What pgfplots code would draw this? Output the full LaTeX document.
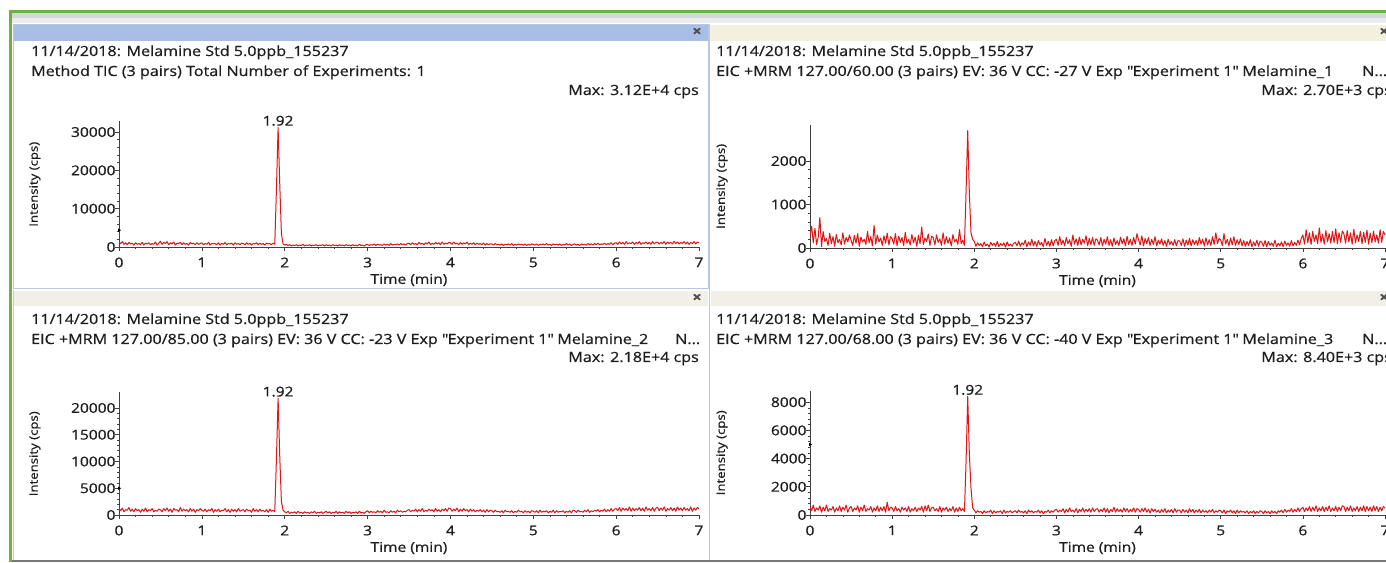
\documentclass[border=0pt]{standalone}
\usepackage{fontspec}
\setmainfont{Open Sans}[FakeStretch=1.15,FakeBold=0.7]
\usepackage{pgfplots}
\usepackage{pgfplotstable}
\pgfplotsset{compat=1.18}

\definecolor{trace}{RGB}{222,22,22}
\definecolor{winGreen}{RGB}{112,176,64}
\definecolor{chromeA}{RGB}{212,214,218}
\definecolor{chromeB}{RGB}{234,236,238}
\definecolor{barBlue}{RGB}{168,190,228}
\definecolor{barBeige}{RGB}{244,240,222}
\definecolor{barBeigeB}{RGB}{242,240,230}
\definecolor{panelLine}{RGB}{184,200,226}
\definecolor{sepLine}{RGB}{200,200,200}
\definecolor{bottomGray}{RGB}{120,120,120}
\definecolor{txt}{RGB}{30,30,30}

% Intensity values sampled every 0.02 min from 0 to 7 min (351 points each)
\pgfplotstableread[header=false,row sep=\\]{
1300\\900\\1400\\700\\1100\\600\\1200\\800\\1000\\500\\1100\\700\\900\\600\\1200\\500\\1000\\800\\1100\\600\\900\\700\\1300\\500\\1000\\
1500\\700\\1200\\900\\1400\\600\\1100\\800\\1300\\500\\1000\\900\\1200\\600\\1100\\700\\900\\500\\1200\\800\\1000\\600\\1100\\700\\900\\
1100\\600\\900\\700\\1200\\500\\1000\\800\\900\\600\\1100\\500\\1000\\700\\1200\\600\\900\\800\\1000\\500\\1100\\700\\900\\600\\1000\\
900\\600\\1100\\700\\1000\\500\\900\\800\\1100\\600\\1000\\700\\900\\500\\1000\\800\\900\\600\\1000\\700\\15000\\31200\\16500\\3500\\800\\
500\\700\\400\\600\\300\\500\\400\\600\\300\\500\\400\\700\\300\\500\\400\\600\\300\\500\\400\\600\\300\\500\\400\\600\\300\\
600\\400\\500\\300\\600\\400\\500\\300\\600\\400\\500\\300\\600\\400\\500\\300\\600\\400\\500\\300\\700\\400\\500\\300\\600\\
700\\400\\600\\500\\800\\400\\700\\500\\600\\400\\800\\500\\700\\400\\900\\500\\700\\600\\800\\500\\900\\600\\800\\500\\900\\
1000\\600\\1100\\700\\900\\600\\1200\\700\\1000\\600\\1100\\800\\1300\\600\\1000\\700\\1200\\800\\1100\\600\\1300\\700\\1000\\800\\1200\\
1100\\700\\1300\\800\\1000\\600\\1200\\700\\1100\\800\\1300\\600\\1000\\700\\1100\\600\\1000\\700\\900\\600\\1000\\500\\900\\600\\800\\
800\\500\\900\\600\\700\\500\\800\\400\\700\\600\\800\\500\\900\\400\\700\\500\\800\\600\\700\\500\\800\\400\\700\\500\\800\\
700\\500\\800\\400\\700\\600\\800\\500\\900\\500\\700\\400\\800\\600\\700\\500\\800\\400\\700\\500\\900\\500\\800\\400\\700\\
800\\500\\700\\400\\800\\600\\700\\500\\900\\600\\800\\500\\900\\600\\1000\\600\\800\\700\\1000\\600\\900\\700\\1100\\600\\1000\\
1100\\700\\1300\\800\\1200\\700\\1400\\800\\1100\\900\\1300\\700\\1200\\800\\1400\\700\\1100\\900\\1300\\800\\1200\\700\\1400\\800\\1200\\
1300\\800\\1200\\900\\1400\\700\\1300\\900\\1200\\800\\1500\\900\\1300\\800\\1200\\900\\1400\\800\\1300\\700\\1200\\900\\1400\\800\\1300\\
1100\\
}\tictab

\pgfplotstableread[header=false,row sep=\\]{
300\\500\\120\\450\\80\\250\\700\\30\\380\\150\\220\\60\\340\\100\\260\\40\\310\\120\\200\\70\\350\\90\\240\\140\\300\\
180\\60\\290\\110\\330\\40\\250\\140\\200\\80\\380\\120\\260\\50\\520\\90\\300\\140\\230\\60\\280\\110\\340\\70\\260\\
210\\90\\330\\50\\270\\130\\240\\60\\360\\110\\200\\70\\310\\120\\250\\40\\290\\100\\480\\80\\230\\150\\320\\60\\270\\
240\\70\\300\\130\\210\\60\\350\\90\\260\\110\\230\\50\\310\\140\\200\\80\\420\\100\\180\\60\\1300\\2700\\1250\\350\\200\\
150\\40\\120\\60\\100\\30\\140\\50\\90\\20\\130\\60\\110\\40\\150\\30\\100\\60\\120\\20\\140\\50\\90\\40\\110\\
130\\50\\160\\40\\120\\70\\180\\30\\140\\60\\200\\50\\150\\40\\170\\70\\130\\30\\220\\60\\150\\40\\190\\50\\170\\
200\\60\\260\\80\\180\\50\\240\\100\\190\\40\\300\\90\\210\\60\\250\\70\\200\\110\\280\\50\\220\\80\\240\\60\\210\\
180\\70\\240\\50\\200\\90\\260\\60\\190\\40\\230\\80\\170\\60\\250\\100\\210\\50\\270\\80\\200\\60\\240\\90\\330\\
190\\70\\280\\50\\220\\100\\240\\60\\200\\80\\260\\50\\180\\90\\210\\60\\170\\40\\200\\80\\150\\60\\190\\50\\170\\
160\\60\\210\\40\\180\\70\\220\\50\\190\\80\\170\\60\\240\\90\\200\\50\\230\\70\\190\\60\\260\\80\\350\\100\\220\\
180\\60\\330\\90\\200\\50\\230\\70\\260\\60\\190\\80\\210\\50\\170\\40\\150\\60\\190\\30\\140\\50\\180\\40\\160\\
130\\40\\170\\30\\150\\60\\120\\40\\180\\30\\110\\50\\140\\30\\160\\60\\120\\40\\170\\50\\130\\60\\180\\70\\220\\
300\\90\\420\\120\\350\\80\\380\\150\\300\\100\\460\\130\\320\\90\\400\\140\\330\\110\\380\\120\\440\\100\\350\\130\\390\\
320\\110\\400\\140\\350\\90\\430\\120\\300\\150\\380\\100\\360\\130\\410\\90\\340\\120\\390\\140\\300\\110\\420\\130\\380\\
300\\
}\mrmatab

\pgfplotstableread[header=false,row sep=\\]{
1200\\800\\1300\\600\\1000\\900\\1400\\700\\1100\\600\\1200\\800\\1000\\500\\1100\\700\\1300\\600\\1000\\800\\1200\\600\\900\\700\\1100\\
1000\\600\\1200\\800\\1300\\700\\1100\\500\\1200\\900\\1000\\600\\1400\\700\\1100\\800\\1000\\600\\1200\\700\\1100\\500\\1000\\800\\1200\\
900\\700\\1100\\600\\1000\\800\\1200\\500\\1000\\700\\1100\\600\\900\\800\\1200\\600\\1000\\500\\1100\\700\\1000\\600\\1200\\700\\900\\
1000\\600\\1100\\800\\900\\500\\1200\\700\\1000\\600\\1100\\700\\900\\600\\1000\\500\\1100\\700\\900\\600\\10500\\21800\\11000\\2500\\900\\
600\\400\\700\\300\\500\\400\\600\\300\\700\\400\\500\\300\\600\\400\\500\\300\\600\\400\\700\\300\\500\\400\\600\\300\\500\\
700\\400\\600\\300\\500\\400\\700\\300\\600\\400\\500\\300\\700\\400\\600\\300\\500\\400\\600\\300\\700\\400\\500\\300\\600\\
800\\400\\700\\500\\600\\400\\800\\500\\700\\400\\900\\500\\600\\400\\800\\500\\700\\400\\900\\600\\800\\500\\700\\600\\900\\
1000\\600\\900\\700\\1100\\600\\1000\\700\\1200\\600\\900\\700\\1100\\800\\1000\\600\\1200\\700\\1000\\600\\1100\\800\\1200\\700\\1300\\
1200\\700\\1100\\800\\1300\\600\\1100\\700\\1200\\800\\1000\\600\\1100\\700\\1000\\600\\900\\700\\1000\\600\\900\\500\\1000\\600\\900\\
800\\500\\900\\600\\700\\500\\800\\400\\900\\600\\700\\500\\800\\400\\700\\500\\900\\600\\700\\400\\800\\500\\700\\400\\800\\
700\\500\\800\\400\\900\\500\\700\\600\\800\\400\\700\\500\\900\\400\\800\\500\\700\\600\\800\\400\\700\\500\\800\\400\\900\\
800\\500\\900\\600\\700\\500\\900\\600\\1000\\500\\800\\600\\900\\700\\1000\\600\\900\\700\\1100\\600\\1000\\700\\1200\\700\\1100\\
1200\\800\\1400\\700\\1300\\900\\1200\\800\\1500\\700\\1300\\800\\1200\\900\\1400\\800\\1300\\700\\1500\\900\\1200\\800\\1400\\700\\1300\\
1400\\800\\1300\\900\\1500\\700\\1200\\900\\1400\\800\\1300\\700\\1500\\900\\1300\\800\\1400\\900\\1200\\800\\1500\\700\\1300\\900\\1400\\
1200\\
}\mrmbtab

\pgfplotstableread[header=false,row sep=\\]{
600\\300\\700\\250\\500\\350\\650\\200\\550\\300\\700\\250\\450\\350\\600\\200\\500\\300\\650\\250\\550\\350\\700\\200\\500\\
600\\250\\500\\350\\650\\200\\550\\300\\700\\250\\450\\350\\600\\200\\500\\300\\650\\250\\550\\300\\600\\200\\900\\300\\550\\
500\\250\\600\\300\\450\\200\\550\\350\\500\\250\\600\\200\\450\\300\\550\\250\\500\\350\\600\\200\\650\\300\\700\\250\\500\\
550\\300\\450\\250\\600\\200\\500\\350\\550\\250\\450\\300\\600\\200\\500\\250\\550\\300\\450\\250\\3800\\8400\\4300\\1900\\500\\
350\\150\\300\\200\\250\\100\\300\\150\\250\\200\\350\\100\\300\\150\\250\\200\\300\\100\\350\\150\\250\\200\\300\\150\\250\\
300\\150\\350\\200\\250\\150\\300\\100\\350\\200\\300\\150\\250\\200\\350\\150\\300\\100\\250\\200\\350\\150\\300\\200\\350\\
400\\200\\350\\250\\450\\150\\400\\200\\500\\250\\350\\200\\450\\150\\400\\250\\500\\200\\400\\250\\450\\200\\500\\250\\400\\
450\\200\\400\\250\\500\\200\\450\\150\\400\\250\\550\\200\\450\\250\\400\\200\\500\\250\\450\\200\\400\\250\\500\\200\\450\\
400\\200\\450\\250\\500\\200\\400\\150\\450\\250\\400\\200\\350\\150\\400\\200\\450\\150\\350\\200\\400\\150\\450\\200\\350\\
350\\150\\400\\200\\350\\150\\450\\200\\400\\150\\350\\200\\400\\150\\350\\200\\300\\150\\350\\200\\400\\150\\300\\200\\350\\
300\\150\\350\\100\\300\\200\\350\\150\\300\\100\\350\\150\\300\\200\\250\\150\\300\\100\\250\\150\\300\\100\\250\\150\\300\\
250\\100\\300\\150\\250\\100\\300\\150\\250\\100\\300\\200\\350\\150\\400\\200\\350\\250\\450\\200\\400\\250\\500\\250\\450\\
550\\250\\500\\300\\600\\250\\550\\300\\650\\250\\500\\300\\600\\250\\550\\300\\650\\250\\500\\300\\600\\250\\550\\300\\650\\
600\\250\\550\\300\\650\\250\\500\\300\\600\\250\\550\\300\\650\\250\\600\\300\\550\\250\\650\\300\\600\\250\\550\\300\\600\\
500\\
}\mrmctab

\pgfplotsset{
  chrom/.style={
    scale only axis, anchor=south west,
    xmin=0, xmax=7, ymin=0,
    axis lines*=left,
    axis line style={black!75, line width=0.9pt},
    xtick={0,...,7},
    minor x tick num=4,
    minor y tick num=4,
    tick align=outside, tick pos=left,
    major tick length=4pt, minor tick length=2pt,
    every tick/.style={black!75, line width=0.6pt},
    scaled y ticks=false,
    /pgf/number format/1000 sep={},
    /pgf/number format/assume math mode=true,
    tick label style={font=\fontsize{13.5}{15}\selectfont, text=txt},
    yticklabel style={xshift=4pt},
    xticklabel style={yshift=-3pt},
    xlabel={Time (min)}, ylabel={Intensity (cps)},
    xlabel style={at={(axis description cs:0.5,0)}, anchor=center, yshift=-33pt,
                  font=\fontsize{13.5}{15}\selectfont, text=txt},
    ylabel style={anchor=center, font=\fontsize{11.5}{13}\selectfont, text=txt},
    clip mode=individual,
  },
  trc/.style={trace, line width=1pt, line join=round, mark=none},
  arr/.style={only marks, mark=triangle*, mark size=1.6pt, mark options={rotate=-90, fill=black}, black},
}

\tikzset{
  ttl/.style={font=\fontsize{14}{16}\selectfont, text=txt, inner sep=0pt},
  pk/.style={font=\fontsize{13.5}{15}\selectfont, text=txt, inner sep=1.5pt, anchor=south},
  cls/.style={font=\fontsize{14}{16}\selectfont\bfseries, text=black!70, inner sep=0pt},
}

\begin{document}
\begin{tikzpicture}
\useasboundingbox (0pt,0pt) rectangle (1386pt,562pt);
\begin{scope}[x=1pt,y=1pt]
\fill[white] (0,0) rectangle (1386,562);
% window chrome
\fill[winGreen] (8.5,548.7) rectangle (1386,552);
\fill[winGreen] (8.5,0) rectangle (11.7,552);
\fill[chromeA] (11.7,544) rectangle (1386,548.7);
\fill[chromeB] (11.7,539) rectangle (1386,544);
\fill[barBlue] (14,521) rectangle (708,537);
\fill[barBeige] (710,521) rectangle (1386,537);
\fill[barBeigeB] (14,256) rectangle (708,271);
\fill[barBeigeB] (711,256) rectangle (1386,271);
\draw[panelLine, line width=1pt] (13.5,273) rectangle (708.5,537.5);
\draw[sepLine, line width=1pt] (709.5,0) -- (709.5,538);
\draw[sepLine, line width=1pt] (13.5,2) -- (13.5,272);
\fill[bottomGray] (11.7,0) rectangle (1386,2.5);

\node[cls] at (697,530) {×};
\node[cls] at (1384,530) {×};
\node[cls] at (697,264) {×};
\node[cls] at (1384,264) {×};

\node[ttl, anchor=base west] at (31,506) {11/14/2018: Melamine Std 5.0ppb\_155237};
\node[ttl, anchor=base west] at (31,486) {Method TIC (3 pairs) Total Number of Experiments: 1};
\node[ttl, anchor=base east] at (699,467) {Max: 3.12E+4 cps};

\node[ttl, anchor=base west] at (716,506) {11/14/2018: Melamine Std 5.0ppb\_155237};
\node[ttl, anchor=base west] at (716,486) {EIC +MRM 127.00/60.00 (3 pairs) EV: 36 V CC: -27 V Exp \textquotedbl Experiment 1\textquotedbl\ Melamine\_1};
\node[ttl, anchor=base west] at (1362,486) {N...};
\node[ttl, anchor=base east] at (1392,467) {Max: 2.70E+3 cps};

\node[ttl, anchor=base west] at (31,238) {11/14/2018: Melamine Std 5.0ppb\_155237};
\node[ttl, anchor=base west] at (31,218) {EIC +MRM 127.00/85.00 (3 pairs) EV: 36 V CC: -23 V Exp \textquotedbl Experiment 1\textquotedbl\ Melamine\_2};
\node[ttl, anchor=base west] at (675,218) {N...};
\node[ttl, anchor=base east] at (699,200) {Max: 2.18E+4 cps};

\node[ttl, anchor=base west] at (716,238) {11/14/2018: Melamine Std 5.0ppb\_155237};
\node[ttl, anchor=base west] at (716,218) {EIC +MRM 127.00/68.00 (3 pairs) EV: 36 V CC: -40 V Exp \textquotedbl Experiment 1\textquotedbl\ Melamine\_3};
\node[ttl, anchor=base west] at (1362,218) {N...};
\node[ttl, anchor=base east] at (1392,200) {Max: 8.40E+3 cps};
\end{scope}

% ---------- top left: TIC ----------
\begin{axis}[chrom, at={(119pt,315pt)}, width=580pt, height=125.5pt, ymax=32760,
  ytick={0,10000,20000,30000},
  ylabel style={at={(axis description cs:-0.145,0.5)}}]
  \addplot[trc] table[x expr=\coordindex*0.02, y index=0] {\tictab};
  \addplot[arr] coordinates {(0,4400)};
  \node[pk] at (axis cs:1.92,31200) {1.92};
\end{axis}

% ---------- top right: 127/60 ----------
\begin{axis}[chrom, at={(810pt,314pt)}, width=575pt, height=123.3pt, ymax=2835,
  ytick={0,1000,2000},
  ylabel style={at={(axis description cs:-0.153,0.5)}}]
  \addplot[trc] table[x expr=\coordindex*0.02, y index=0] {\mrmatab};
\end{axis}

% ---------- bottom left: 127/85 ----------
\begin{axis}[chrom, at={(119pt,47pt)}, width=580pt, height=122.5pt, ymax=22890,
  ytick={0,5000,10000,15000,20000},
  ylabel style={at={(axis description cs:-0.145,0.5)}}]
  \addplot[trc] table[x expr=\coordindex*0.02, y index=0] {\mrmbtab};
  \addplot[arr] coordinates {(0,5000)};
  \node[pk] at (axis cs:1.92,21800) {1.92};
\end{axis}

% ---------- bottom right: 127/68 ----------
\begin{axis}[chrom, at={(810pt,47pt)}, width=575pt, height=124.4pt, ymax=8820,
  ytick={0,2000,4000,6000,8000},
  ylabel style={at={(axis description cs:-0.153,0.5)}}]
  \addplot[trc] table[x expr=\coordindex*0.02, y index=0] {\mrmctab};
  \addplot[arr] coordinates {(0,5000)};
  \node[pk] at (axis cs:1.92,8400) {1.92};
\end{axis}
\end{tikzpicture}
\end{document}
